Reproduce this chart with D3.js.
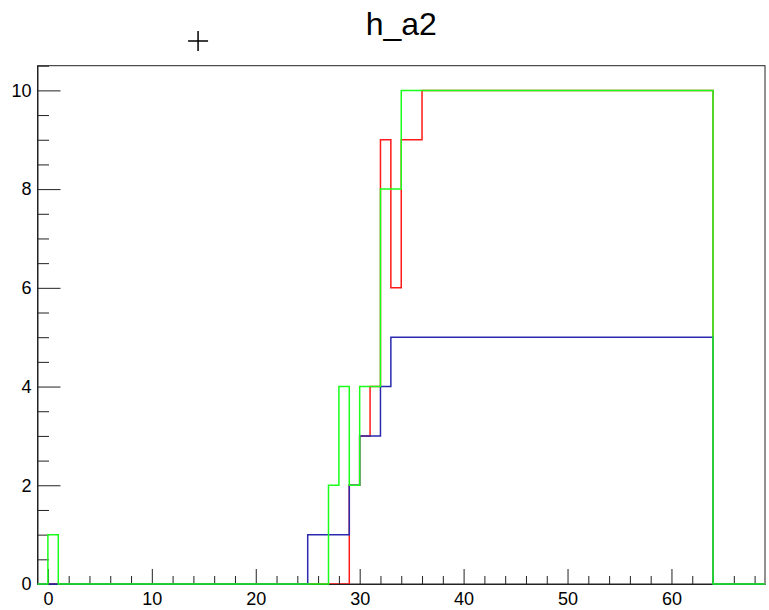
<!DOCTYPE html>
<html>
<head>
<meta charset="utf-8">
<script src="https://cdn.jsdelivr.net/npm/d3@7"></script>
<style>
  body { margin: 0; background: #fff; }
  text { font-family: "Liberation Sans", Arial, Helvetica, sans-serif; }
</style>
</head>
<body>
<svg id="chart"></svg>
<script>
// histogram steps: value of each run starts at edge[i] and ends at edge[i+1]
var redEdges = [-1, 29, 30, 31, 32, 33, 34, 36, 64, 69];
var redCounts = [0, 2, 3, 4, 9, 6, 9, 10, 0];

var blueEdges = [-1, 25, 29, 30, 32, 33, 64, 69];
var blueCounts = [0, 1, 2, 3, 4, 5, 0];

var greenEdges = [-1, 0, 1, 27, 28, 29, 30, 32, 34, 64, 69];
var greenCounts = [0, 1, 0, 2, 4, 2, 4, 8, 10, 0];

var xMajor = [0, 10, 20, 30, 40, 50, 60];
var yMajor = [0, 2, 4, 6, 8, 10];
var markerPos = [14.45, 11.0];
var title = "h_a2";

var svgWidth = 769;
var svgHeight = 610;
var margin = { top: 65.7, right: 4, bottom: 26, left: 37.5 };
var chartWidth = svgWidth - margin.left - margin.right;
var chartHeight = svgHeight - margin.top - margin.bottom;

var svg = d3.select("#chart")
  .attr("width", svgWidth)
  .attr("height", svgHeight);

svg.append("rect")
  .attr("width", svgWidth)
  .attr("height", svgHeight)
  .attr("fill", "#fff");

var chart = svg.append("g")
  .attr("transform", "translate(" + margin.left + "," + margin.top + ")");

var xScale = d3.scaleLinear().domain([-1, 69]).range([0, chartWidth]);
var yScale = d3.scaleLinear().domain([0, 10.5]).range([chartHeight, 0]);

// frame
chart.append("rect")
  .attr("width", chartWidth)
  .attr("height", chartHeight)
  .attr("fill", "none")
  .attr("stroke", "#222")
  .attr("stroke-width", 1);

function stepPath(edges, counts) {
  var pts = [[edges[0], 0]];
  counts.forEach(function (c, i) {
    pts.push([edges[i], c]);
    pts.push([edges[i + 1], c]);
  });
  pts.push([edges[edges.length - 1], 0]);
  return d3.line()
    .x(function (d) { return xScale(d[0]); })
    .y(function (d) { return yScale(d[1]); })(pts);
}

function drawHist(edges, counts, color) {
  chart.append("path")
    .attr("d", stepPath(edges, counts))
    .attr("fill", "none")
    .attr("stroke", color)
    .attr("stroke-width", 1.5);
}

// first histogram, then axes on top of it, then the others
drawHist(redEdges, redCounts, "#ff1a1a");

var xMinor = d3.range(0, 69, 2).filter(function (v) { return xMajor.indexOf(v) < 0; });
var yMinor = d3.range(0, 10.51, 0.5).filter(function (v) { return yMajor.indexOf(v) < 0; });

chart.append("g")
  .attr("class", "axis")
  .attr("transform", "translate(0," + chartHeight + ")")
  .call(d3.axisBottom(xScale).tickValues(xMajor).tickSizeInner(-15).tickSizeOuter(0).tickPadding(8));

chart.append("g")
  .attr("class", "axis")
  .attr("transform", "translate(0," + chartHeight + ")")
  .call(d3.axisBottom(xScale).tickValues(xMinor).tickSizeInner(-8).tickSizeOuter(0).tickFormat(""))
  .select(".domain").remove();

chart.append("g")
  .attr("class", "axis")
  .call(d3.axisLeft(yScale).tickValues(yMajor).tickSizeInner(-23).tickSizeOuter(0).tickPadding(6));

chart.append("g")
  .attr("class", "axis")
  .call(d3.axisLeft(yScale).tickValues(yMinor).tickSizeInner(-11.5).tickSizeOuter(0).tickFormat(""))
  .select(".domain").remove();

chart.selectAll(".axis path, .axis line").attr("stroke", "#222");
chart.selectAll(".axis text")
  .style("font-size", "18px")
  .style("font-family", "'Liberation Sans', Arial, Helvetica, sans-serif")
  .attr("fill", "#000");

drawHist(blueEdges, blueCounts, "#2a2aae");
drawHist(greenEdges, greenCounts, "#1aff1a");

// title
svg.append("text")
  .attr("x", margin.left + chartWidth / 2)
  .attr("y", 35)
  .attr("text-anchor", "middle")
  .style("font-size", "32px")
  .attr("fill", "#000")
  .text(title);

// stray marker
var mx = xScale(markerPos[0]);
var my = yScale(markerPos[1]);
chart.append("path")
  .attr("d", "M" + (mx - 10) + "," + my + "H" + (mx + 10) + "M" + mx + "," + (my - 10) + "V" + (my + 10))
  .attr("stroke", "#000")
  .attr("stroke-width", 1.5)
  .attr("fill", "none");
</script>
</body>
</html>
